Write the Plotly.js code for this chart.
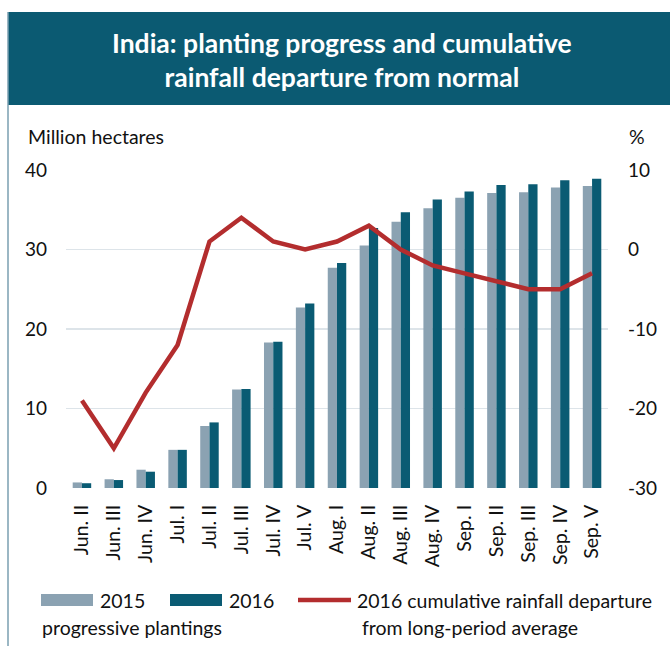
<!DOCTYPE html>
<html>
<head>
<meta charset="utf-8">
<script src="https://cdn.plot.ly/plotly-3.0.1.min.js"></script>
<style>
  body { margin: 0; background: #fff; }
  #chart { width: 670px; height: 646px; }
</style>
</head>
<body>
<div id="chart"></div>
<script>
const weeks = ["Jun. II", "Jun. III", "Jun. IV", "Jul. I", "Jul. II", "Jul. III", "Jul. IV", "Jul. V",
  "Aug. I", "Aug. II", "Aug. III", "Aug. IV", "Sep. I", "Sep. II", "Sep. III", "Sep. IV", "Sep. V"];
const plant2015 = [0.7, 1.1, 2.3, 4.8, 7.8, 12.4, 18.3, 22.7, 27.7, 30.5, 33.5, 35.2, 36.5, 37.1, 37.2, 37.8, 38.0];
const plant2016 = [0.6, 1.0, 2.05, 4.8, 8.25, 12.45, 18.4, 23.2, 28.3, 32.7, 34.7, 36.3, 37.3, 38.1, 38.2, 38.7, 38.9];
const rainDeparture = [-19, -25, -18, -12, 1, 4, 1, 0, 1, 3, 0, -2, -3, -4, -5, -5, -3];
const pctTicks = [-30, -20, -10, 0, 10];
const pctLabels = ["-30", "-20", "-10", "0", "10"];

const GREY = "#8ba2b2", TEAL = "#0a5b73", RED = "#b32d2e";
const FONT = "Lato, 'Open Sans', sans-serif";

// page pixels -> paper coords (plot area 66..608 x 170..488)
const L = 66, R = 608, T = 170, B = 488;
const px = v => (v - L) / (R - L);
const py = v => (B - v) / (B - T);

const traces = [
  { type: "bar", x: weeks, y: plant2015, name: "2015", marker: { color: GREY }, yaxis: "y" },
  { type: "bar", x: weeks, y: plant2016, name: "2016", marker: { color: TEAL }, yaxis: "y" },
  { type: "scatter", mode: "lines", x: weeks, y: rainDeparture, yaxis: "y2",
    name: "2016 cumulative rainfall departure from long-period average",
    line: { color: RED, width: 4.5 } }
];

const txt = (x, y, text, opts) => Object.assign({
  xref: "paper", yref: "paper", x: px(x), y: py(y), text: text, showarrow: false,
  xanchor: "left", yanchor: "middle", font: { family: FONT, size: 19.5, color: "#111" }
}, opts || {});

const layout = {
  width: 670, height: 646,
  margin: { l: L, r: 670 - R, t: T, b: 646 - B },
  paper_bgcolor: "#fff", plot_bgcolor: "#fff",
  font: { family: FONT, size: 19, color: "#111" },
  showlegend: false,
  barmode: "group", bargap: 0.42, bargroupgap: 0,
  xaxis: {
    type: "category", tickangle: -90, showgrid: false, zeroline: false,
    showline: false, ticks: "", ticklabelstandoff: 12,
    tickfont: { family: FONT, size: 19.5, color: "#111" }
  },
  yaxis: {
    range: [0, 40], dtick: 10, showgrid: true, gridcolor: "#dde4e9", gridwidth: 1.5,
    zeroline: false, showline: false, ticks: "", ticklabelstandoff: 18,
    tickfont: { family: FONT, size: 19, color: "#111" }
  },
  yaxis2: {
    overlaying: "y", side: "right", range: [-30, 10], tickvals: pctTicks, ticktext: pctLabels,
    showgrid: false, zeroline: false, showline: false, ticks: "", ticklabelstandoff: 19,
    tickfont: { family: FONT, size: 19, color: "#111" }
  },
  shapes: [
    { type: "rect", xref: "paper", yref: "paper", x0: px(8), x1: px(670), y0: py(12), y1: py(105),
      fillcolor: "#0b5a72", line: { width: 0 }, layer: "below" },
    { type: "line", xref: "paper", yref: "paper", x0: px(8), x1: px(8), y0: py(12), y1: py(646),
      line: { color: "#7a9fb0", width: 1.5 } },
    { type: "rect", xref: "paper", yref: "paper", x0: px(41), x1: px(93), y0: py(594), y1: py(606),
      fillcolor: GREY, line: { width: 0 } },
    { type: "rect", xref: "paper", yref: "paper", x0: px(170), x1: px(222), y0: py(594), y1: py(606),
      fillcolor: TEAL, line: { width: 0 } },
    { type: "line", xref: "paper", yref: "paper", x0: px(298), x1: px(351), y0: py(600), y1: py(600),
      line: { color: RED, width: 4.5 } }
  ],
  annotations: [
    txt(342, 60, "<b>India: planting progress and cumulative<br>rainfall departure from normal</b>",
      { xanchor: "center", align: "center", font: { family: FONT, size: 26.5, color: "#fff" } }),
    txt(26, 136, "Million hectares"),
    txt(637, 136, "%", { xanchor: "center" }),
    txt(98, 600, "2015"),
    txt(227, 600, "2016"),
    txt(355, 600, "2016 cumulative rainfall departure"),
    txt(360, 627, "from long-period average"),
    txt(40, 627, "progressive plantings")
  ]
};

Plotly.newPlot("chart", traces, layout, { displayModeBar: false, staticPlot: true });
</script>
</body>
</html>
